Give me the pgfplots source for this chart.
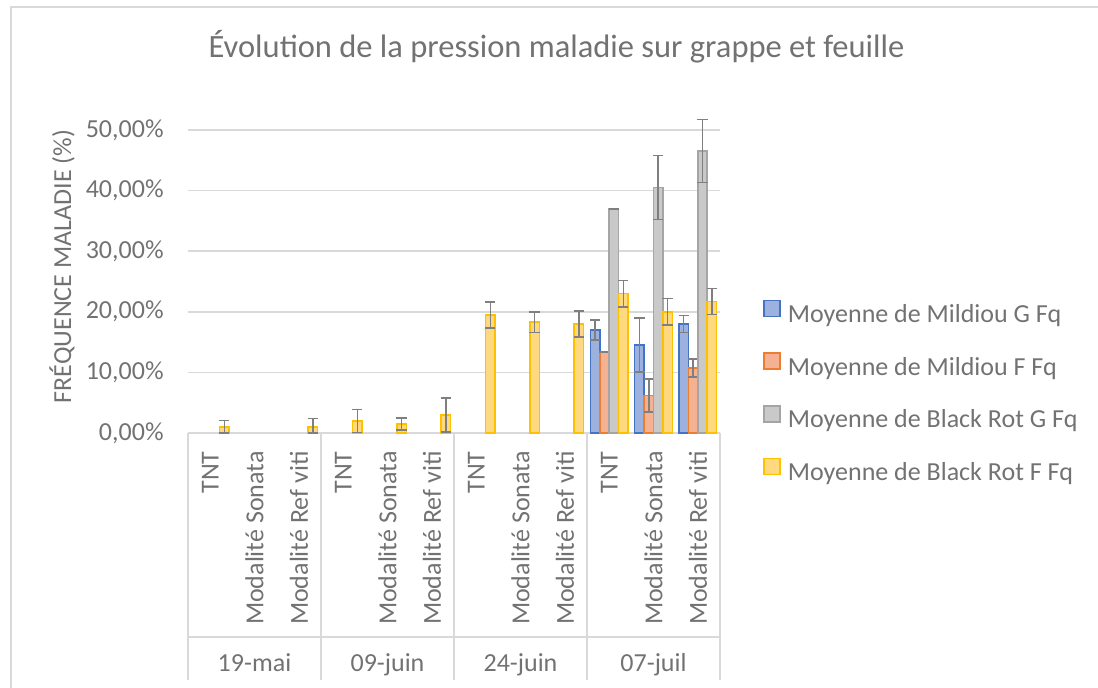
\documentclass[border=0pt]{standalone}
\usepackage{fontspec}
\setmainfont{Carlito}
\usepackage{pgfplots}
\pgfplotsset{compat=1.18}

\definecolor{txtgray}{HTML}{727272}
\definecolor{gridgray}{HTML}{D9D9D9}
\definecolor{errgray}{HTML}{7F7F7F}
\definecolor{blueline}{HTML}{4472C4}
\definecolor{bluefill}{HTML}{9DB1DF}
\definecolor{orangeline}{HTML}{ED7D31}
\definecolor{orangefill}{HTML}{F4B293}
\definecolor{grayline}{HTML}{A5A5A5}
\definecolor{grayfill}{HTML}{C9C9C9}
\definecolor{yellowline}{HTML}{FFC000}
\definecolor{yellowfill}{HTML}{FFD97F}

\pgfplotsset{
  ebar/.style={error bars/.cd, y dir=both, y explicit,
    error bar style={line width=0.75pt, color=errgray},
    error mark options={rotate=90, line width=0.75pt, mark size=2.6pt, color=errgray}},
  lgsq/.style={legend image code/.code={\draw[##1,line width=0.75pt] (0pt,0pt) rectangle (8pt,8pt);}},
}

\begin{document}
\begin{tikzpicture}
\path[use as bounding box] (0,0) rectangle (549pt,344pt);
\draw[gridgray, line width=1pt] (5.5pt,0) -- (5.5pt,340.5pt) -- (549pt,340.5pt);
\node[font=\fontsize{16.25}{19.5}\selectfont, text=txtgray] at (278.25pt,320.5pt)
  {Évolution de la pression maladie sur grappe et feuille};
\node[rotate=90, font=\fontsize{13}{15.6}\selectfont, text=txtgray] at (31pt,210.75pt)
  {FRÉQUENCE MALADIE (\%)};

\begin{axis}[
  at={(94pt,127.5pt)}, anchor=south west,
  scale only axis, width=266pt, height=151.5pt,
  ybar=0pt, bar width=4.7pt,
  xmin=-0.5, xmax=11.5, ymin=0, ymax=50,
  clip=false,
  axis line style={draw=none},
  major tick length=0pt,
  ymajorgrids, grid style={gridgray, line width=0.75pt},
  ytick={0,10,...,50},
  yticklabels={{0,00\%},{10,00\%},{20,00\%},{30,00\%},{40,00\%},{50,00\%}},
  xtick={0,...,11},
  xticklabels={TNT,Modalité Sonata,Modalité Ref viti,TNT,Modalité Sonata,Modalité Ref viti,
    TNT,Modalité Sonata,Modalité Ref viti,TNT,Modalité Sonata,Modalité Ref viti},
  /pgf/number format/assume math mode=true,
  tick label style={font=\fontsize{13}{15.6}\selectfont, text=txtgray},
  yticklabel style={anchor=east, inner sep=0pt, xshift=-12pt},
  xticklabel style={yshift=-9pt, rotate=90, anchor=east, inner sep=0pt},
  legend style={at={(1.0808,0.4413)}, anchor=north west, draw=none, fill=none,
    inner sep=0pt, row sep=12pt, column sep=3.5pt,
    font=\fontsize{13}{15.6}\selectfont, text=txtgray,
    nodes={inner sep=0pt, text height=9pt, text depth=3pt}},
  legend cell align=left,
]
\addplot[fill=bluefill, draw=blueline, line width=0.75pt, lgsq, ebar]
  table[x=x, y=y, y error plus=ep, y error minus=em] {
x y ep em
9 17.0 1.65 1.65
10 14.5 4.45 4.45
11 18.0 1.4 1.4
};
\addplot[fill=orangefill, draw=orangeline, line width=0.75pt, lgsq, ebar]
  table[x=x, y=y, y error plus=ep, y error minus=em] {
x y ep em
9 13.4 0 0
10 6.2 2.7 2.7
11 10.7 1.5 1.5
};
\addplot[fill=grayfill, draw=grayline, line width=0.75pt, lgsq, ebar]
  table[x=x, y=y, y error plus=ep, y error minus=em] {
x y ep em
9 37.0 0 0
10 40.5 5.25 5.25
11 46.5 5.2 5.2
};
\addplot[fill=yellowfill, draw=yellowline, line width=0.75pt, lgsq, ebar]
  table[x=x, y=y, y error plus=ep, y error minus=em] {
x y ep em
0 1.0 1.1 1.0
2 1.0 1.4 1.0
3 2.0 1.9 1.9
4 1.5 1.0 1.0
5 3.0 2.8 2.8
6 19.5 2.15 2.15
7 18.3 1.7 1.7
8 18.0 2.15 2.15
9 23.0 2.2 2.2
10 20.0 2.2 2.2
11 21.7 2.15 2.15
};
\legend{Moyenne de Mildiou G Fq,Moyenne de Mildiou F Fq,Moyenne de Black Rot G Fq,Moyenne de Black Rot F Fq}

% multi-level category axis frame
\draw[gridgray, line width=0.75pt] (axis cs:-0.5,-33.66) -- (axis cs:11.5,-33.66);
\pgfplotsinvokeforeach{-0.5,2.5,5.5,8.5,11.5}{
  \draw[gridgray, line width=0.75pt] (axis cs:#1,0) -- (axis cs:#1,-40.76);
}
\node[anchor=base, font=\fontsize{13}{15.6}\selectfont, text=txtgray] at (axis cs:1,-39.3) {19-mai};
\node[anchor=base, font=\fontsize{13}{15.6}\selectfont, text=txtgray] at (axis cs:4,-39.3) {09-juin};
\node[anchor=base, font=\fontsize{13}{15.6}\selectfont, text=txtgray] at (axis cs:7,-39.3) {24-juin};
\node[anchor=base, font=\fontsize{13}{15.6}\selectfont, text=txtgray] at (axis cs:10,-39.3) {07-juil};
\end{axis}
\end{tikzpicture}
\end{document}
